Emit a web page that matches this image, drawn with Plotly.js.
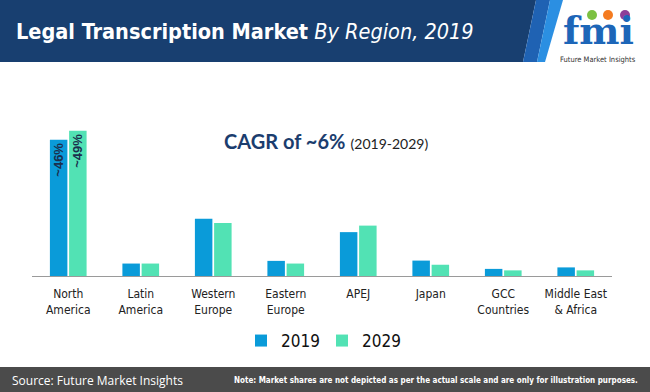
<!DOCTYPE html>
<html>
<head>
<meta charset="utf-8">
<script src="https://cdn.plot.ly/plotly-3.0.1.min.js"></script>
<style>html,body{margin:0;padding:0;background:#fff;}#chart{width:650px;height:392px;}</style>
</head>
<body>
<div id="chart"></div>
<script>
var categories = ["North<br>America", "Latin<br>America", "Western<br>Europe", "Eastern<br>Europe", "APEJ", "Japan", "GCC<br>Countries", "Middle East<br>& Africa"];
var v2019 = [46, 4.2, 19.3, 5.1, 14.8, 5.2, 2.4, 2.9];
var v2029 = [49, 4.2, 17.9, 4.2, 17.0, 3.8, 1.9, 1.9];
var labels2019 = ["~46%", "", "", "", "", "", "", ""];
var labels2029 = ["~49%", "", "", "", "", "", "", ""];
var seriesNames = ["2019", "2029"];

var W = 650, H = 392;
function px(x){ return x / W; }
function py(y){ return 1 - y / H; }
var NARROW = "DejaVu Sans Condensed, Liberation Sans Narrow, sans-serif";

var barFont = {family: "Liberation Sans, Arial, sans-serif", size: 13, color: "#1b2f4d", weight: "bold"};

var traces = [
  {type: "bar", name: seriesNames[0], x: categories, y: v2019, marker: {color: "#0a9bd9"},
   text: labels2019, textposition: "inside", insidetextanchor: "end", textangle: -90, constraintext: "none",
   insidetextfont: barFont, hoverinfo: "skip", cliponaxis: false},
  {type: "bar", name: seriesNames[1], x: categories, y: v2029, marker: {color: "#52e2b4"},
   text: labels2029, textposition: "inside", insidetextanchor: "end", textangle: -90, constraintext: "none",
   insidetextfont: barFont, hoverinfo: "skip", cliponaxis: false}
];

function poly(pts, color){
  var d = "M" + pts.map(function(p){ return px(p[0]) + "," + py(p[1]); }).join(" L") + " Z";
  return {type: "path", xref: "paper", yref: "paper", path: d, fillcolor: color, line: {width: 0}, layer: "below"};
}

var shapes = [
  poly([[0,0],[536,0],[523,62],[0,62]], "#183f70"),
  poly([[536,0],[550,0],[537,62],[523,62]], "#1f62b3"),
  poly([[550,0],[563,0],[545,62],[537,62]], "#2b8fe2"),
  {type: "rect", xref: "paper", yref: "paper", x0: 0, x1: 1, y0: 0, y1: py(367), fillcolor: "#4b4b4b", line: {width: 0}, layer: "below"},
  // logo dots
  {type: "circle", xref: "paper", yref: "paper", x0: px(587), x1: px(597), y0: py(20), y1: py(10), fillcolor: "#7cc142", line: {width: 0}},
  {type: "circle", xref: "paper", yref: "paper", x0: px(603), x1: px(613), y0: py(20), y1: py(10), fillcolor: "#f47b20", line: {width: 0}},
  {type: "circle", xref: "paper", yref: "paper", x0: px(620), x1: px(630), y0: py(20), y1: py(10), fillcolor: "#8e3f98", line: {width: 0}}
];

var annotations = [
  {xref: "paper", yref: "paper", x: px(14), y: py(31), xanchor: "left", yanchor: "middle", showarrow: false,
   text: "<b>Legal Transcription Market</b> <i>By Region, 2019</i>",
   font: {family: NARROW, size: 21.5, color: "#ffffff"}},
  {xref: "paper", yref: "paper", x: px(598), y: py(54), xanchor: "center", yanchor: "bottom", showarrow: false, borderpad: 0,
   text: "<b>fmi</b>", font: {family: "DejaVu Serif, serif", size: 38, color: "#1d66b8"}},
  {xref: "paper", yref: "paper", x: px(598), y: py(54), xanchor: "center", yanchor: "top", showarrow: false, borderpad: 0,
   text: "Future Market Insights", font: {family: NARROW, size: 7.5, color: "#333333"}},
  {xref: "paper", yref: "paper", x: px(222), y: py(141), xanchor: "left", yanchor: "middle", showarrow: false,
   text: "<b>CAGR of ~6%</b> <span style='font-size:14px;color:#222'>(2019-2029)</span>",
   font: {family: "Lato, Open Sans, sans-serif", size: 20, color: "#1b3d6e"}},
  {xref: "paper", yref: "paper", x: px(10), y: py(380), xanchor: "left", yanchor: "middle", showarrow: false,
   text: "Source: Future Market Insights", font: {family: "Open Sans, sans-serif", size: 12, color: "#ffffff"}},
  {xref: "paper", yref: "paper", x: px(640), y: py(380), xanchor: "right", yanchor: "middle", showarrow: false,
   text: "<b>Note: Market shares are not depicted as per the actual scale and are only for illustration purposes.</b>",
   font: {family: NARROW, size: 8, color: "#ffffff"}}
];

var layout = {
  width: W, height: H,
  margin: {l: 0, r: 0, t: 0, b: 0},
  paper_bgcolor: "#ffffff", plot_bgcolor: "rgba(0,0,0,0)",
  barmode: "group", bargap: 0.47, bargroupgap: 0.09,
  showlegend: true,
  legend: {orientation: "h", x: px(241), xanchor: "left", y: py(341), yanchor: "middle", entrywidth: 36,
           font: {family: NARROW, size: 17, color: "#111111"}, itemclick: false, bgcolor: "rgba(0,0,0,0)"},
  xaxis: {domain: [px(32), px(612)], range: [-0.5, 7.5], showline: true, linecolor: "#9a9a9a", linewidth: 1,
          ticks: "", showgrid: false, zeroline: false, fixedrange: true, ticklabelstandoff: 7,
          tickfont: {family: NARROW, size: 12, color: "#222222"}},
  yaxis: {domain: [py(276), py(110)], range: [0, 56], visible: false, showgrid: false, zeroline: false, fixedrange: true},
  shapes: shapes,
  annotations: annotations
};

Plotly.newPlot("chart", traces, layout, {displayModeBar: false, staticPlot: true});
</script>
</body>
</html>
